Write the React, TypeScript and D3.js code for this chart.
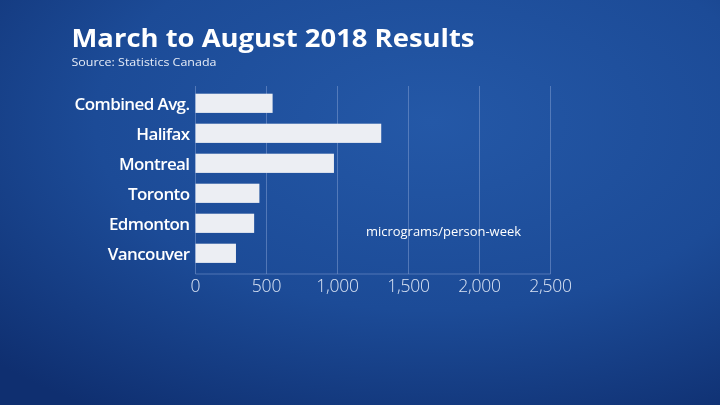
import React from "react";
import * as d3 from "d3";

const categories = ["Combined Avg.", "Halifax", "Montreal", "Toronto", "Edmonton", "Vancouver"];
const values = [543, 1308, 975, 450, 413, 285];
const xTicks = [0, 500, 1000, 1500, 2000, 2500];
const title = "March to August 2018 Results";
const source = "Source: Statistics Canada";
const unitLabel = "micrograms/person-week";

const W = 720;
const H = 405;

export default function App() {
  const x = d3.scaleLinear().domain([0, 2500]).range([195.5, 550.5]);
  const y = d3.scaleBand<string>().domain(categories).range([88.3, 268.3]).paddingInner(0.36).paddingOuter(0.18);
  const fmt = d3.format(",");
  const font = "'Open Sans', 'Noto Sans', sans-serif";
  return (
    <div style={{ position: "fixed", left: 0, top: 0, width: W, height: H }}>
      <svg width={W} height={H} style={{ display: "block" }}>
        <defs>
          <radialGradient id="bg" cx="0.6" cy="0.3" r="0.85">
            <stop offset="0" stopColor="#2458a7" />
            <stop offset="0.55" stopColor="#1c4b97" />
            <stop offset="1" stopColor="#0f2f70" />
          </radialGradient>
        </defs>
        <rect x={0} y={0} width={W} height={H} fill="url(#bg)" />
        <text x={71.5} y={47.3} fill="#ffffff" fontFamily={font} fontWeight={700} fontSize={25.5}
          textLength={403} lengthAdjust="spacingAndGlyphs">{title}</text>
        <text x={71.5} y={66} fill="#e6ecf7" fontFamily={font} fontSize={11}
          textLength={145} lengthAdjust="spacingAndGlyphs">{source}</text>
        {xTicks.map((t) => (
          <line key={"g" + t} x1={x(t)} x2={x(t)} y1={86} y2={274} stroke="#7d9bd0" strokeOpacity={0.55} strokeWidth={1} />
        ))}
        <line x1={x(0)} x2={x(2500)} y1={274} y2={274} stroke="#7d9bd0" strokeOpacity={0.55} strokeWidth={1} />
        {categories.map((c, i) => (
          <g key={c}>
            <rect x={x(0)} y={y(c)} width={x(values[i]) - x(0)} height={y.bandwidth()} fill="#eceef3" />
            <text x={189.5} y={(y(c) as number) + y.bandwidth() / 2 + 6.3} textAnchor="end" fill="#ffffff"
              fontFamily={font} fontWeight={600} fontSize={17} letterSpacing={-0.6}>{c}</text>
          </g>
        ))}
        {xTicks.map((t) => (
          <text key={"t" + t} x={x(t)} y={291.5} textAnchor="middle" fill="#dbe4f4" fontFamily={font}
            fontWeight={300} fontSize={17.5} letterSpacing={-0.2}>{fmt(t)}</text>
        ))}
        <text x={366} y={236} fill="#ffffff" fontFamily={font} fontSize={13}
          textLength={155} lengthAdjust="spacingAndGlyphs">{unitLabel}</text>
      </svg>
    </div>
  );
}
